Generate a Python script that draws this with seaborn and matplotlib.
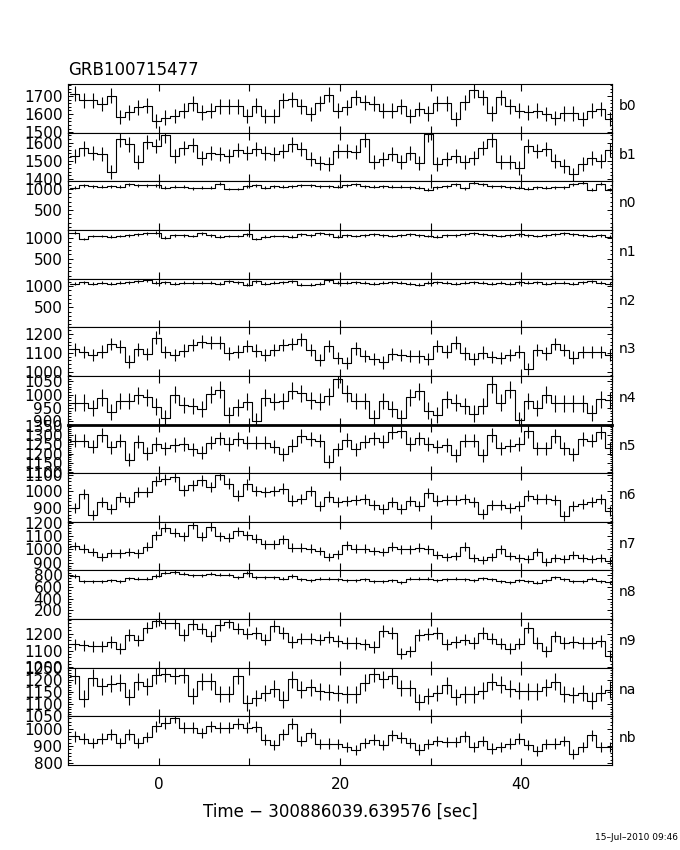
import numpy as np
import pandas as pd
import matplotlib
matplotlib.use("Agg")
import matplotlib.pyplot as plt
from matplotlib.ticker import MultipleLocator
import seaborn as sns

sns.set_style("ticks")
plt.rcParams.update({
    "font.family": ["DejaVu Sans"],
    "axes.linewidth": 0.8,
    "axes.edgecolor": "black",
    "text.color": "black",
    "axes.labelcolor": "black",
    "xtick.color": "black",
    "ytick.color": "black",
})

# light curve binning (seconds relative to trigger)
t_first_edge = -9.75
bin_width = 1.0

detectors = ["b0", "b1", "n0", "n1", "n2", "n3", "n4", "n5", "n6", "n7", "n8", "n9", "na", "nb"]

# count rates per 1 s bin
b0 = [1713, 1675, 1675, 1656, 1700, 1585, 1610, 1638, 1647, 1563,
      1581, 1590, 1619, 1660, 1610, 1619, 1643, 1643, 1643, 1590,
      1647, 1590, 1590, 1675, 1681, 1643, 1600, 1660, 1707, 1619,
      1638, 1694, 1666, 1657, 1619, 1619, 1643, 1590, 1628, 1604,
      1660, 1660, 1572, 1666, 1732, 1694, 1604, 1694, 1643, 1619,
      1610, 1619, 1600, 1578, 1604, 1604, 1572, 1619, 1628, 1572]
b1 = [1526, 1568, 1544, 1535, 1437, 1618, 1590, 1494, 1605, 1581,
      1640, 1526, 1572, 1587, 1517, 1544, 1539, 1526, 1559, 1544,
      1563, 1541, 1535, 1554, 1590, 1563, 1507, 1489, 1480, 1554,
      1554, 1548, 1618, 1494, 1507, 1539, 1494, 1541, 1489, 1646,
      1480, 1507, 1526, 1494, 1517, 1572, 1618, 1494, 1494, 1461,
      1581, 1554, 1563, 1498, 1470, 1424, 1480, 1517, 1498, 1559]
n0 = [1028, 1092, 1068, 1052, 1068, 1052, 1108, 1084, 1084, 1092,
      1028, 1052, 1052, 1012, 1028, 1028, 1124, 1003, 1003, 1068,
      1092, 1028, 1068, 1052, 1068, 1084, 1084, 1068, 1068, 1052,
      1092, 1108, 1068, 1052, 1068, 1052, 1052, 1044, 1028, 987,
      1044, 1068, 1108, 1012, 1148, 1108, 1068, 1068, 1044, 1028,
      1004, 1044, 1028, 1044, 1044, 1108, 1148, 987, 1124, 987]
n1 = [1117, 971, 1036, 1036, 1020, 1036, 1052, 1077, 1101, 1117,
      996, 1052, 1052, 1036, 1101, 1052, 1020, 1036, 1036, 1077,
      971, 1020, 1036, 1036, 1020, 1077, 1052, 1101, 1077, 1020,
      1052, 1036, 1052, 1077, 1052, 1036, 1052, 1077, 1052, 1036,
      1020, 1052, 1052, 1077, 1101, 1077, 1052, 1036, 1052, 1077,
      1052, 1036, 1052, 1077, 1101, 1077, 1052, 1036, 1052, 1020]
n2 = [1065, 1097, 1065, 1081, 1065, 1081, 1097, 1122, 1138, 1081,
      1097, 1065, 1081, 1081, 1081, 1081, 1065, 1122, 1097, 1041,
      1122, 1065, 1081, 1097, 1122, 1041, 1041, 1065, 1146, 1081,
      1081, 1097, 1081, 1065, 1081, 1097, 1081, 1065, 1041, 1081,
      1097, 1081, 1065, 1081, 1097, 1081, 1065, 1081, 1065, 1097,
      1081, 1097, 1065, 1081, 1081, 1065, 1097, 1122, 1081, 1065]
n3 = [1119, 1104, 1089, 1107, 1147, 1133, 1054, 1119, 1095, 1182,
      1104, 1089, 1112, 1142, 1160, 1154, 1154, 1098, 1107, 1137,
      1112, 1089, 1116, 1142, 1147, 1172, 1116, 1063, 1137, 1072,
      1046, 1125, 1084, 1067, 1049, 1095, 1089, 1084, 1081, 1067,
      1137, 1107, 1154, 1098, 1067, 1102, 1077, 1072, 1089, 1107,
      1014, 1116, 1098, 1147, 1116, 1075, 1104, 1104, 1104, 1089]
n4 = [970, 970, 950, 988, 935, 976, 976, 998, 990, 955,
      911, 1000, 962, 958, 946, 1002, 1018, 923, 952, 974,
      902, 988, 974, 976, 1014, 1006, 979, 974, 994, 1057,
      1006, 976, 976, 914, 976, 946, 911, 990, 1012, 940,
      923, 982, 970, 958, 929, 958, 1038, 970, 1018, 905,
      976, 950, 1000, 967, 967, 967, 967, 931, 982, 979]
n5 = [1269, 1269, 1237, 1300, 1233, 1269, 1168, 1264, 1201, 1251,
      1228, 1246, 1251, 1222, 1204, 1259, 1282, 1251, 1277, 1259,
      1259, 1259, 1237, 1197, 1241, 1295, 1277, 1269, 1156, 1222,
      1273, 1222, 1264, 1282, 1264, 1313, 1318, 1251, 1282, 1251,
      1237, 1246, 1192, 1269, 1269, 1192, 1300, 1228, 1241, 1251,
      1318, 1228, 1228, 1295, 1228, 1197, 1277, 1269, 1313, 1228]
n6 = [900, 986, 859, 935, 894, 965, 935, 996, 996, 1063,
      1072, 1088, 1006, 1037, 1067, 1027, 1102, 1047, 975, 1043,
      1002, 996, 1002, 1016, 945, 955, 1002, 914, 969, 935,
      941, 949, 955, 920, 894, 935, 894, 941, 914, 990,
      945, 949, 949, 955, 935, 863, 920, 920, 900, 914,
      975, 955, 955, 949, 853, 914, 924, 935, 955, 883]
n7 = [1025, 1005, 980, 946, 975, 970, 980, 970, 1020, 1104,
      1160, 1123, 1099, 1185, 1094, 1168, 1099, 1086, 1136, 1104,
      1079, 1037, 1037, 1074, 1012, 1012, 1005, 988, 946, 963,
      1030, 1005, 1005, 988, 980, 1020, 1000, 1000, 1012, 1000,
      956, 946, 951, 1020, 938, 921, 946, 1000, 951, 938,
      931, 980, 906, 938, 931, 956, 938, 931, 938, 914]
n8 = [789, 697, 697, 697, 714, 697, 754, 743, 743, 789,
      846, 857, 829, 800, 800, 829, 811, 811, 771, 846,
      771, 771, 771, 743, 789, 731, 714, 743, 743, 731,
      714, 714, 731, 697, 697, 714, 686, 743, 743, 743,
      714, 731, 743, 731, 714, 754, 731, 697, 686, 714,
      697, 674, 714, 771, 731, 697, 697, 743, 697, 686]
n9 = [1136, 1130, 1124, 1124, 1150, 1110, 1190, 1160, 1236, 1276,
      1264, 1264, 1190, 1256, 1230, 1184, 1250, 1270, 1230, 1200,
      1204, 1164, 1244, 1204, 1150, 1170, 1170, 1164, 1180, 1156,
      1144, 1144, 1136, 1120, 1216, 1204, 1080, 1096, 1190, 1196,
      1204, 1136, 1150, 1164, 1144, 1204, 1170, 1140, 1110, 1140,
      1236, 1144, 1096, 1184, 1144, 1150, 1144, 1144, 1156, 1070]
na = [1216, 1123, 1209, 1174, 1184, 1188, 1129, 1192, 1174, 1220,
      1225, 1216, 1222, 1133, 1195, 1195, 1142, 1142, 1216, 1105,
      1126, 1147, 1164, 1119, 1202, 1160, 1170, 1153, 1151, 1147,
      1140, 1140, 1188, 1225, 1202, 1216, 1167, 1167, 1109, 1133,
      1147, 1178, 1129, 1140, 1140, 1156, 1192, 1181, 1164, 1156,
      1153, 1153, 1170, 1192, 1142, 1137, 1147, 1115, 1147, 1160]
nb = [956, 942, 917, 942, 967, 917, 967, 917, 952, 1013,
      1033, 1063, 1006, 1006, 975, 1013, 1006, 1006, 1029, 1006,
      1010, 937, 904, 967, 1029, 929, 975, 910, 913, 910,
      894, 875, 917, 937, 904, 962, 948, 917, 879, 910,
      929, 923, 923, 956, 894, 929, 885, 894, 913, 942,
      904, 871, 910, 913, 929, 852, 894, 962, 894, 894]

# y ranges and tick steps of each panel
y_lows = [1497, 1385, 25, 25, 25, 977, 888, 1095, 816, 843, 46, 998, 1050, 790]
y_highs = [1765, 1655, 1180, 1180, 1180, 1237, 1070, 1355, 1110, 1205, 886, 1286, 1250, 1071]
major_steps = [100, 100, 500, 500, 500, 100, 50, 50, 100, 100, 200, 100, 50, 100]
minor_steps = [20, 20, 100, 100, 100, 20, 10, 10, 20, 20, 50, 20, 10, 20]

x_ticks = [-10, 0, 10, 20, 30, 40, 50]
x_tick_labels = ["", "0", "", "20", "", "40", ""]

rates = [b0, b1, n0, n1, n2, n3, n4, n5, n6, n7, n8, n9, na, nb]


def main():
    fig, axes = plt.subplots(len(detectors), 1, figsize=(6.8, 8.5), dpi=100, sharex=True)
    fig.subplots_adjust(left=0.1, right=0.9, top=0.901, bottom=0.1, hspace=0)

    n_bins = len(b0)
    edges = t_first_edge + bin_width * np.arange(n_bins + 1)
    centers = edges[:-1] + bin_width / 2

    for i, ax in enumerate(axes):
        rate = np.asarray(rates[i], dtype=float)
        df = pd.DataFrame({"time": edges, "rate": np.append(rate, rate[-1])})
        sns.lineplot(data=df, x="time", y="rate", drawstyle="steps-post",
                     color="black", lw=0.8, ax=ax, estimator=None, sort=False)
        ax.errorbar(centers, rate, yerr=np.sqrt(rate / bin_width), fmt="none",
                    ecolor="black", elinewidth=0.8, capsize=0)

        ax.set_xlim(-10, 50)
        ax.set_ylim(y_lows[i], y_highs[i])
        ax.set_xlabel("")
        ax.set_ylabel("")
        ax.yaxis.set_major_locator(MultipleLocator(major_steps[i]))
        ax.yaxis.set_minor_locator(MultipleLocator(minor_steps[i]))
        ax.set_xticks(x_ticks)
        ax.tick_params(axis="y", which="major", direction="in", left=True, right=True,
                       length=3.5, width=0.7, labelsize=11, pad=4)
        ax.tick_params(axis="y", which="minor", direction="in", left=True, right=True,
                       length=1.8, width=0.7)
        ax.tick_params(axis="x", which="major", direction="in", top=True, bottom=True,
                       length=5, width=0.8, labelsize=11, pad=9)
        for side in ["top", "right", "bottom", "left"]:
            ax.spines[side].set_visible(True)
            ax.spines[side].set_color("black")
        ax.text(1.012, 0.55, detectors[i], transform=ax.transAxes,
                ha="left", va="center", fontsize=10)

    axes[7].spines["top"].set_linewidth(2.0)
    axes[-1].set_xticklabels(x_tick_labels)

    fig.text(0.1, 1 - 70 / 850, "GRB100715477", ha="left", va="center", fontsize=12)
    fig.text(0.5, 1 - 812 / 850, "Time \u2212 300886039.639576 [sec]",
             ha="center", va="center", fontsize=12)
    fig.text(0.997, 1 - 838 / 850, "15\u2013Jul\u20132010 09:46",
             ha="right", va="center", fontsize=6.5)

    fig.savefig("out.png", dpi=100, facecolor="white")
    plt.close(fig)


if __name__ == "__main__":
    main()
